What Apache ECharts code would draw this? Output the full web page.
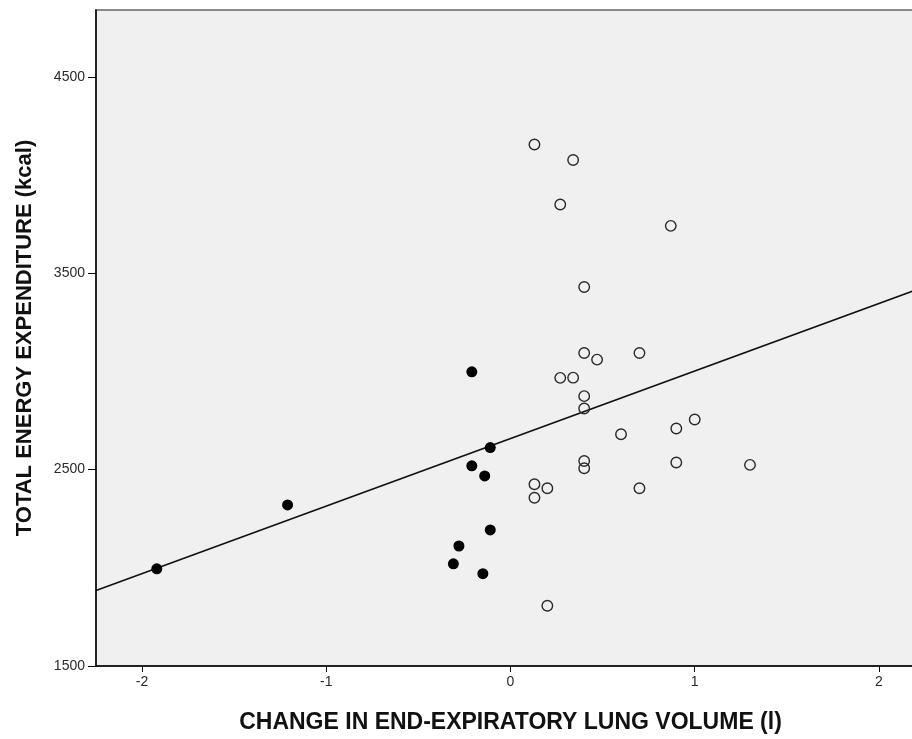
<!DOCTYPE html>
<html>
<head>
<meta charset="utf-8">
<script src="https://cdn.jsdelivr.net/npm/echarts@6/dist/echarts.min.js"></script>
<style>
	html, body { margin: 0; padding: 0; background: #fff; }
	#chart { width: 912px; height: 739px; }
</style>
</head>
<body>
<div id="chart"></div>
<script>
// filled circles: lung volume decreased
const filledX = [-1.92, -1.21, -0.21, -0.11, -0.21, -0.14, -0.11, -0.28, -0.31, -0.15];
const filledY = [1995, 2320, 2998, 2612, 2519, 2468, 2193, 2111, 2020, 1970];

// open circles: lung volume increased
const openX = [0.13, 0.34, 0.27, 0.87, 0.40, 0.40, 0.47, 0.70, 0.27, 0.34, 0.40, 0.40,
	1.00, 0.90, 0.60, 0.40, 0.40, 0.90, 0.13, 0.20, 0.13, 0.70, 0.20, 1.30];
const openY = [4155, 4076, 3850, 3741, 3430, 3094, 3060, 3094, 2967, 2968, 2874, 2811,
	2755, 2709, 2680, 2544, 2507, 2536, 2425, 2405, 2357, 2405, 1807, 2524];

// fit line (all points)
const fitIntercept = 2658;
const fitSlope = 344;

const xTicks = [-2, -1, 0, 1, 2];
const yTicks = [1500, 2500, 3500, 4500];

const xMin = -2.25, xMax = 2.25;
const yMin = 1500, yMax = 4840;

const xName = 'CHANGE IN END-EXPIRATORY LUNG VOLUME (l)';
const yName = 'TOTAL ENERGY EXPENDITURE (kcal)';

const pairs = (xs, ys) => xs.map((x, i) => [x, ys[i]]);
const fitLine = [xMin, xMax].map(x => [x, fitIntercept + fitSlope * x]);

const chart = echarts.init(document.getElementById('chart'));

const axisFont = {
	color: '#2a2a2a',
	fontFamily: 'Liberation Sans, Arial, sans-serif',
	fontSize: 14
};
const nameFont = {
	color: '#111',
	fontFamily: 'Liberation Sans, Arial, sans-serif',
	fontWeight: 'bold'
};

chart.setOption({
	animation: false,
	backgroundColor: '#fff',
	grid: {
		left: 96,
		top: 10,
		width: 829,
		height: 656,
		outerBoundsMode: 'none',
		containLabel: false,
		show: true,
		backgroundColor: '#f0f0f0',
		borderColor: '#8a8a8a',
		borderWidth: 2
	},
	xAxis: {
		type: 'value',
		min: xMin,
		max: xMax,
		name: xName,
		nameLocation: 'middle',
		nameGap: 45,
		nameTextStyle: Object.assign({ fontSize: 23 }, nameFont),
		splitLine: { show: false },
		axisLine: { show: true, onZero: false, lineStyle: { color: '#000', width: 1.5 } },
		axisTick: { show: true, length: 6, customValues: xTicks, lineStyle: { color: '#000' } },
		axisLabel: Object.assign({ customValues: xTicks, margin: 9 }, axisFont)
	},
	yAxis: {
		type: 'value',
		min: yMin,
		max: yMax,
		name: yName,
		nameLocation: 'middle',
		nameGap: 60,
		nameTextStyle: Object.assign({ fontSize: 22 }, nameFont),
		splitLine: { show: false },
		axisLine: { show: true, onZero: false, lineStyle: { color: '#000', width: 1.5 } },
		axisTick: { show: true, length: 8, customValues: yTicks, lineStyle: { color: '#000' } },
		axisLabel: Object.assign({
			customValues: yTicks,
			margin: 11,
			formatter: v => String(v)
		}, axisFont)
	},
	series: [
		{
			name: 'fit',
			type: 'line',
			data: fitLine,
			symbol: 'none',
			lineStyle: { color: '#111', width: 1.6 },
			z: 2
		},
		{
			name: 'increase',
			type: 'scatter',
			data: pairs(openX, openY),
			symbol: 'circle',
			symbolSize: 10.5,
			itemStyle: { color: 'rgba(0,0,0,0)', borderColor: '#2a2a2a', borderWidth: 1.4, opacity: 1 },
			z: 3
		},
		{
			name: 'decrease',
			type: 'scatter',
			data: pairs(filledX, filledY),
			symbol: 'circle',
			symbolSize: 11,
			itemStyle: { color: '#000', opacity: 1 },
			z: 3
		}
	]
});
</script>
</body>
</html>
